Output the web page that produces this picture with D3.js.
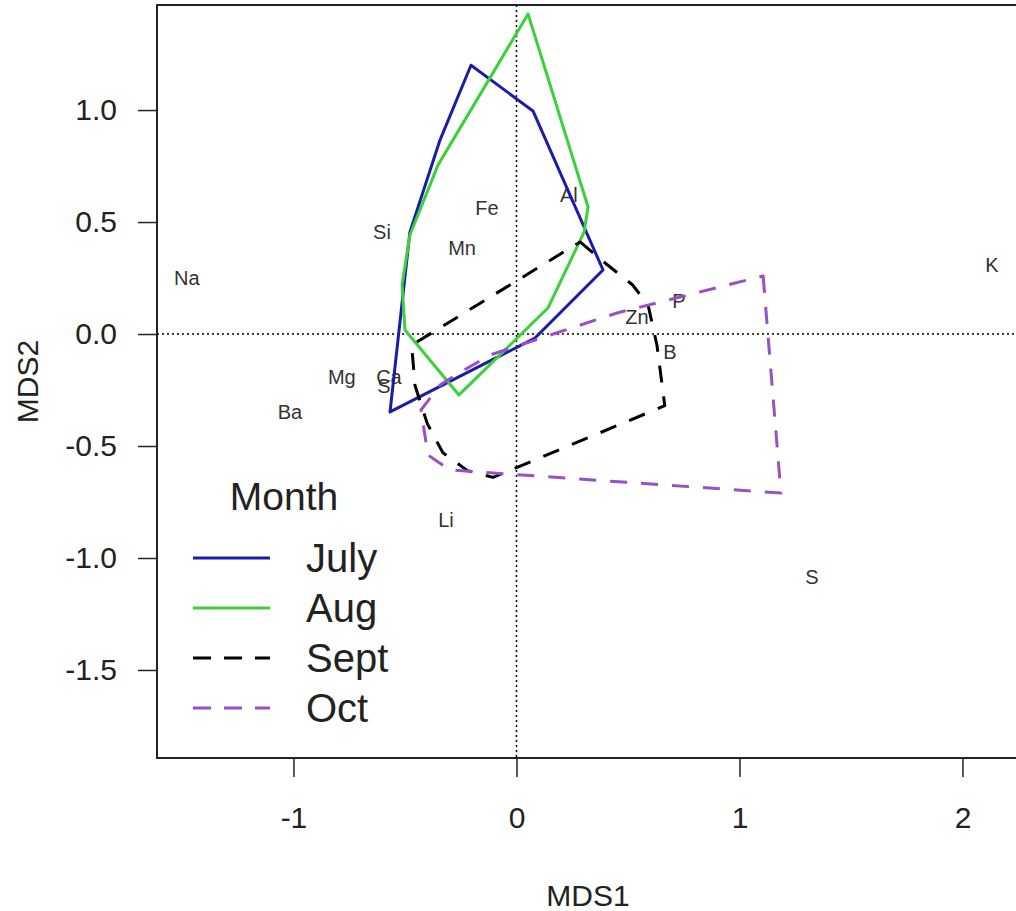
<!DOCTYPE html>
<html>
<head>
<meta charset="utf-8">
<script src="https://cdn.jsdelivr.net/npm/d3@7"></script>
<style>
  body { margin: 0; background: #fff; }
  svg { font-family: "Liberation Sans", Arial, sans-serif; }
</style>
</head>
<body>
<svg id="chart" width="1016" height="911"></svg>
<script>
// species scores (MDS1, MDS2)
var species = ['Na', 'Si', 'Fe', 'Al', 'Mn', 'K', 'P', 'Zn', 'B', 'Mg', 'Ca', 'S', 'Ba', 'Li', 'S'];
var mds1 = [-1.478, -0.603, -0.132, 0.235, -0.244, 2.132, 0.729, 0.540, 0.688, -0.783, -0.572, -0.594, -1.016, -0.316, 1.325];
var mds2 = [0.25, 0.455, 0.563, 0.621, 0.384, 0.308, 0.147, 0.076, -0.080, -0.192, -0.192, -0.232, -0.348, -0.830, -1.085];

// hull outlines per month
var months = ['July', 'Aug', 'Sept', 'Oct'];
var julyHull = [[-0.204, 1.20], [0.074, 0.996], [0.388, 0.286], [0.083, -0.018], [-0.567, -0.348], [-0.478, 0.455], [-0.343, 0.866]];
var augHull = [[0.052, 1.429], [0.321, 0.567], [0.303, 0.455], [0.141, 0.116], [-0.258, -0.272], [-0.50, 0.018], [-0.513, 0.219], [-0.478, 0.442], [-0.352, 0.754]];
var septHull = [[0.285, 0.411], [0.40, 0.315], [0.52, 0.22], [0.59, 0.13], [0.63, -0.05], [0.665, -0.32], [-0.105, -0.64], [-0.22, -0.61], [-0.33, -0.53], [-0.40, -0.40], [-0.455, -0.23], [-0.47, -0.05]];
var octHull = [[1.106, 0.259], [1.186, -0.71], [-0.298, -0.607], [-0.397, -0.54], [-0.428, -0.339], [-0.343, -0.228], [-0.251, -0.170], [-0.119, -0.094], [0.451, 0.094]];

var xTicks = [-1, 0, 1, 2];
var yTicks = [-1.5, -1.0, -0.5, 0.0, 0.5, 1.0];

var hulls = [julyHull, augHull, septHull, octHull];
var colors = ['#1c1ca8', '#3ad13a', '#000000', '#9a4fc7'];
var dashes = [null, null, '17,14', '17,14'];

var svg = d3.select('#chart');
var margin = { left: 157, right: 1049, top: 5, bottom: 758 };

var x = d3.scaleLinear().domain([-1.612, 2.388]).range([margin.left, margin.right]);
var y = d3.scaleLinear().domain([-1.893, 1.469]).range([margin.bottom, margin.top]);

function styleAxis(g) {
  g.select('.domain').remove();
  g.selectAll('text').attr('font-size', 30).attr('fill', '#222').attr('font-family', '"Liberation Sans", Arial, sans-serif');
  g.selectAll('line').attr('stroke', '#222').attr('stroke-width', 1.5);
}

// axes
svg.append('g')
    .attr('transform', 'translate(0,' + margin.bottom + ')')
    .call(d3.axisBottom(x).tickValues(xTicks).tickSize(19).tickPadding(30).tickFormat(function (d) { return String(d); }))
    .call(styleAxis);

svg.append('g')
    .attr('transform', 'translate(' + margin.left + ',0)')
    .call(d3.axisLeft(y).tickValues(yTicks).tickSize(19).tickPadding(21).tickFormat(function (d) { return d.toFixed(1); }))
    .call(styleAxis);

// plot box
svg.append('rect')
    .attr('x', margin.left).attr('y', margin.top)
    .attr('width', margin.right - margin.left).attr('height', margin.bottom - margin.top)
    .attr('fill', 'none').attr('stroke', '#222').attr('stroke-width', 2);

// axis titles
svg.append('text')
    .attr('x', (margin.left + margin.right) / 2 - 15).attr('y', 906)
    .attr('text-anchor', 'middle').attr('font-size', 30).attr('fill', '#222')
    .text('MDS1');

svg.append('text')
    .attr('transform', 'translate(38,' + (margin.top + margin.bottom) / 2 + ') rotate(-90)')
    .attr('text-anchor', 'middle').attr('font-size', 30).attr('fill', '#222')
    .text('MDS2');

// origin lines
var plot = svg.append('g');

plot.append('line')
    .attr('x1', x(0)).attr('x2', x(0)).attr('y1', margin.top).attr('y2', margin.bottom)
    .attr('stroke', '#000').attr('stroke-width', 1.5).attr('stroke-dasharray', '2,3');
plot.append('line')
    .attr('x1', margin.left).attr('x2', margin.right).attr('y1', y(0)).attr('y2', y(0))
    .attr('stroke', '#000').attr('stroke-width', 1.5).attr('stroke-dasharray', '2,3');

// species labels
plot.selectAll('text.sp')
    .data(species)
    .enter()
  .append('text')
    .attr('class', 'sp')
    .attr('x', function (d, i) { return x(mds1[i]); })
    .attr('y', function (d, i) { return y(mds2[i]); })
    .attr('dy', '0.35em')
    .attr('text-anchor', 'middle')
    .attr('font-size', 20)
    .attr('fill', '#333')
    .text(function (d) { return d; });

// hulls
var line = d3.line()
    .x(function (d) { return x(d[0]); })
    .y(function (d) { return y(d[1]); })
    .curve(d3.curveLinearClosed);

plot.selectAll('path.hull')
    .data(hulls)
    .enter()
  .append('path')
    .attr('class', 'hull')
    .attr('d', line)
    .attr('fill', 'none')
    .attr('stroke', function (d, i) { return colors[i]; })
    .attr('stroke-width', 3)
    .attr('stroke-linejoin', 'round')
    .attr('stroke-dasharray', function (d, i) { return dashes[i]; });

// legend
var legend = svg.append('g');

legend.append('text')
    .attr('x', 284).attr('y', 510)
    .attr('text-anchor', 'middle').attr('font-size', 39).attr('fill', '#222')
    .text('Month');

var rows = legend.selectAll('g.row')
    .data(months)
    .enter()
  .append('g')
    .attr('class', 'row')
    .attr('transform', function (d, i) { return 'translate(0,' + (558 + i * 50) + ')'; });

rows.append('line')
    .attr('x1', 193).attr('x2', 270)
    .attr('stroke', function (d, i) { return colors[i]; })
    .attr('stroke-width', 3)
    .attr('stroke-dasharray', function (d, i) { return dashes[i] ? '18,13' : null; });

rows.append('text')
    .attr('x', 306).attr('dy', '0.35em')
    .attr('font-size', 40).attr('fill', '#222')
    .text(function (d) { return d; });
</script>
</body>
</html>
